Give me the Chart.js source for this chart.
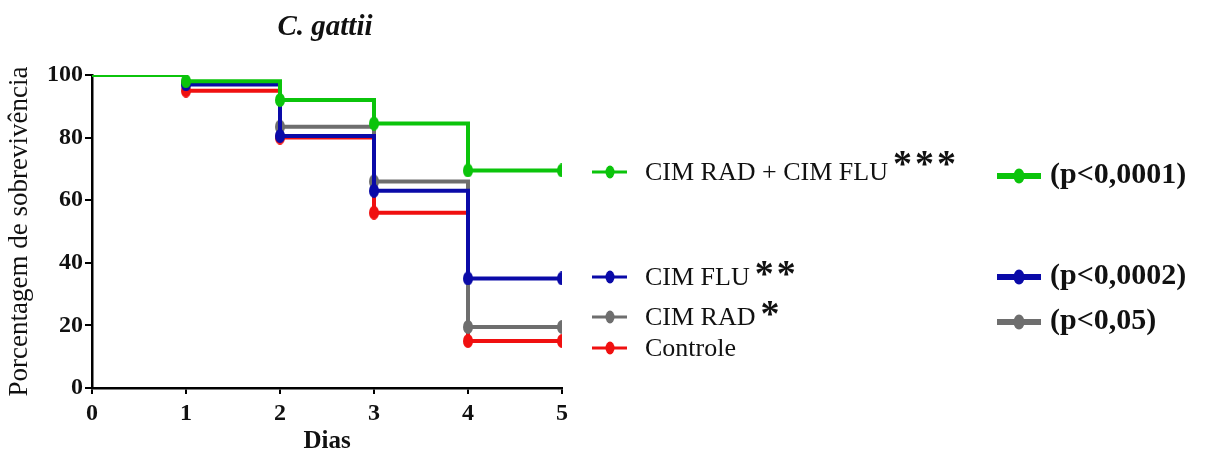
<!DOCTYPE html>
<html>
<head>
<meta charset="utf-8">
<script src="https://cdn.jsdelivr.net/npm/chart.js@4"></script>
<style>
  html, body { margin: 0; padding: 0; background: #ffffff; }
  #wrap { width: 1205px; height: 457px; position: relative; }
</style>
</head>
<body>
<div id="wrap"><canvas id="c" width="1205" height="457"></canvas></div>
<script>
// Survival (%) per day for each treatment group
const days = [0, 1, 2, 3, 4, 5];
const radFlu = [100, 98, 92, 84.5, 69.5, 69.5];     // CIM RAD + CIM FLU
const flu = [100, 97, 80.5, 63, 35, 35];             // CIM FLU
const rad = [100, 97.5, 83.5, 66, 19.5, 19.5];       // CIM RAD
const controle = [100, 95, 80, 56, 15, 15];          // Controle

const groupNames = ['CIM RAD + CIM FLU', 'CIM FLU', 'CIM RAD', 'Controle'];
const groupStars = ['***', '**', '*', ''];
const pValues = ['(p<0,0001)', '(p<0,0002)', '(p<0,05)', ''];
const yTicks = [0, 20, 40, 60, 80, 100];
const xTicks = [0, 1, 2, 3, 4, 5];

const GREEN = '#0bc40b';
const BLUE = '#0a0aa8';
const GRAY = '#6e6e6e';
const RED = '#f01010';

const SERIF = '"Liberation Serif", "Times New Roman", serif';

// Tall oval marker used at each survival step
function ovalMarker(color, w, h) {
  const cv = document.createElement('canvas');
  cv.width = w; cv.height = h;
  const g = cv.getContext('2d');
  g.fillStyle = color;
  g.beginPath();
  g.ellipse(w / 2, h / 2, w / 2, h / 2, 0, 0, Math.PI * 2);
  g.fill();
  return cv;
}

function series(label, values, color) {
  return {
    label,
    data: days.map((d, i) => ({ x: d, y: values[i] })),
    borderColor: color,
    backgroundColor: color,
    borderWidth: 4,
    stepped: 'before',
    pointStyle: ovalMarker(color, 10, 14),
    pointRadius: days.map((d, i) => i === 0 ? 0 : 7),
    pointHoverRadius: 7,
    fill: false
  };
}

// Legend block on the right: group names with stars, and p-values
const legendPlugin = {
  id: 'sideLegend',
  afterDraw(chart) {
    const ctx = chart.ctx;
    const colors = [GREEN, BLUE, GRAY, RED];
    const rowY = [172, 277, 317, 348];
    const starDy = [-6, -1, -1, 0];
    const pY = [176, 277, 322];
    ctx.save();
    // title
    ctx.fillStyle = '#111';
    ctx.font = 'italic bold 29px ' + SERIF;
    ctx.textAlign = 'center';
    ctx.textBaseline = 'middle';
    ctx.fillText('C. gattii', 325, 28);

    for (let i = 0; i < groupNames.length; i++) {
      const y = rowY[i];
      ctx.strokeStyle = colors[i];
      ctx.lineWidth = 3;
      ctx.beginPath();
      ctx.moveTo(592, y);
      ctx.lineTo(627, y);
      ctx.stroke();
      ctx.fillStyle = colors[i];
      ctx.beginPath();
      ctx.ellipse(610, y, 4.5, 6.5, 0, 0, Math.PI * 2);
      ctx.fill();

      ctx.fillStyle = '#111';
      ctx.font = '26px ' + SERIF;
      ctx.textAlign = 'left';
      ctx.textBaseline = 'middle';
      ctx.fillText(groupNames[i], 645, y + 1);
      const w = ctx.measureText(groupNames[i]).width;
      if (groupStars[i]) {
        ctx.font = 'bold 38px ' + SERIF;
        for (let k = 0; k < groupStars[i].length; k++) {
          ctx.fillText('*', 645 + w + 5 + k * 22, y + starDy[i]);
        }
      }

      if (pValues[i]) {
        const py = pY[i];
        ctx.strokeStyle = colors[i];
        ctx.lineWidth = 6;
        ctx.beginPath();
        ctx.moveTo(997, py);
        ctx.lineTo(1041, py);
        ctx.stroke();
        ctx.fillStyle = colors[i];
        ctx.beginPath();
        ctx.ellipse(1019, py, 5.5, 7.5, 0, 0, Math.PI * 2);
        ctx.fill();
        ctx.fillStyle = '#111';
        ctx.font = 'bold 30px ' + SERIF;
        ctx.fillText(pValues[i], 1050, py - 1);
      }
    }
    ctx.restore();
  }
};

new Chart(document.getElementById('c'), {
  type: 'line',
  data: {
    // first dataset is painted last, so the combined group sits on top
    datasets: [
      series('CIM RAD + CIM FLU', radFlu, GREEN),
      series('CIM FLU', flu, BLUE),
      series('CIM RAD', rad, GRAY),
      series('Controle', controle, RED)
    ]
  },
  options: {
    responsive: false,
    animation: false,
    events: [],
    layout: { padding: { left: 0, right: 643, top: 75, bottom: 0 } },
    plugins: {
      legend: { display: false },
      title: { display: false },
      tooltip: { enabled: false }
    },
    scales: {
      x: {
        type: 'linear',
        min: 0, max: 5,
        afterFit(s) { s.height = 69; },
        afterBuildTicks(s) { s.ticks = xTicks.map(v => ({ value: v })); },
        grid: { display: true, drawOnChartArea: false, drawTicks: true, tickLength: 6, color: '#000', lineWidth: 2 },
        border: { display: true, color: '#000', width: 2.5 },
        ticks: { color: '#111', padding: 5, font: { family: SERIF, size: 24, weight: 'bold' } },
        title: {
          display: true, text: 'Dias', color: '#111',
          font: { family: SERIF, size: 25, weight: 'bold' },
          padding: { top: 10, bottom: 0 }
        }
      },
      y: {
        min: 0, max: 100,
        afterFit(s) { s.width = 92; },
        afterBuildTicks(s) { s.ticks = yTicks.map(v => ({ value: v })); },
        grid: { display: true, drawOnChartArea: false, drawTicks: true, tickLength: 7, color: '#000', lineWidth: 2 },
        border: { display: true, color: '#000', width: 2.5 },
        ticks: { color: '#111', padding: 2, font: { family: SERIF, size: 24, weight: 'bold' } },
        title: {
          display: true, text: 'Porcentagem de sobrevivência', color: '#111',
          font: { family: SERIF, size: 27 },
          padding: { top: 4, bottom: 0 }
        }
      }
    }
  },
  plugins: [legendPlugin]
});
</script>
</body>
</html>
